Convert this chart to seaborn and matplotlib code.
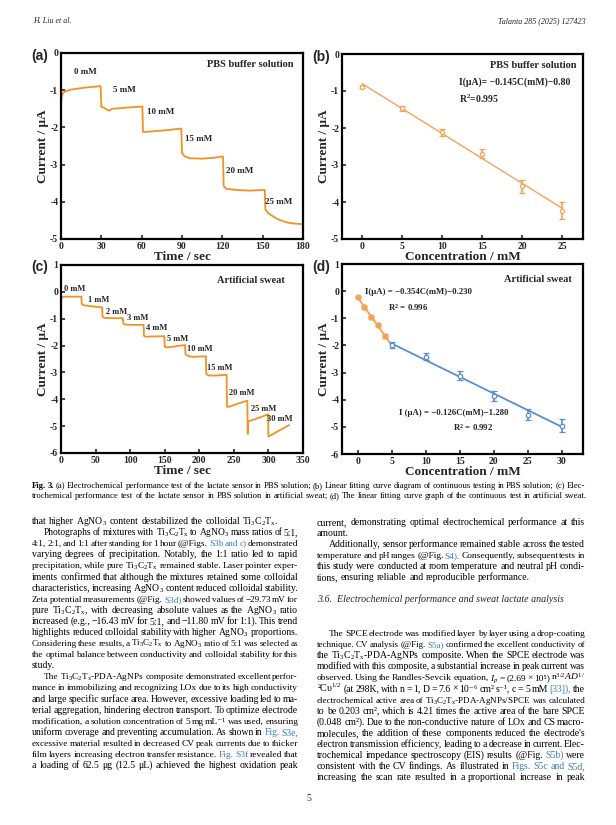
import matplotlib
matplotlib.use('Agg')
import matplotlib.pyplot as plt
import seaborn as sns

# ---- panel (a): i-t curve in PBS ----
a_time = [0, 0.5, 1, 2, 4, 8, 12, 18, 24, 29.5, 30, 32, 34, 36, 38, 45, 52, 60.5,
          61, 64, 70, 80, 89.5, 90, 92, 96, 105, 113, 120.5, 121, 123, 130, 140, 146,
          151.5, 152, 154, 158, 162, 166, 170, 175, 180]
a_curr = [-1.40, -1.20, -1.12, -1.06, -1.02, -0.98, -0.96, -0.93, -0.91, -0.89, -1.45,
          -1.47, -1.52, -1.55, -1.50, -1.48, -1.46, -1.44, -2.12, -2.12, -2.10, -2.07,
          -2.03, -2.68, -2.78, -2.83, -2.84, -2.82, -2.78, -3.58, -3.65, -3.68, -3.70,
          -3.69, -3.68, -4.20, -4.30, -4.40, -4.48, -4.53, -4.57, -4.59, -4.60]
a_labels = ['0 mM', '5 mM', '10 mM', '15 mM', '20 mM', '25 mM']
a_label_x = [18, 47, 74, 102, 133, 162]
a_label_y = [-0.50, -0.99, -1.59, -2.32, -3.17, -4.01]

# ---- panel (b): calibration in PBS ----
b_conc = [0, 5, 10, 15, 20, 25]
b_curr = [-0.88, -1.47, -2.12, -2.70, -3.58, -4.23]
b_err = [0.05, 0.07, 0.10, 0.12, 0.18, 0.22]
b_fit_x = [0, 25]
b_fit_y = [-0.80, -4.17]

# ---- panel (c): i-t curve in artificial sweat ----
c_time = [0, 2, 5, 29.5, 30, 33, 45, 59.5, 60, 63, 75, 89.5, 90, 93, 105, 119.5, 120,
          123, 135, 149.5, 150, 153, 165, 179.5, 180, 183, 190, 209.5, 210, 213, 220,
          239.5, 240, 243, 255, 269.5, 270, 270.5, 285, 299.5, 300, 315, 330]
c_curr = [-0.25, -0.20, -0.18, -0.18, -0.45, -0.50, -0.54, -0.58, -0.93, -0.97, -0.98,
          -0.98, -1.17, -1.22, -1.23, -1.23, -1.64, -1.67, -1.66, -1.65, -2.04, -2.07,
          -2.03, -1.98, -2.32, -2.38, -2.42, -2.40, -3.05, -3.11, -3.12, -3.09, -4.28,
          -4.28, -4.17, -4.05, -5.29, -4.83, -4.70, -4.56, -5.39, -5.17, -4.96]
c_labels = ['0 mM', '1 mM', '2 mM', '3 mM', '4 mM', '5 mM', '10 mM', '15 mM', '20 mM',
            '25 mM', '30 mM']
c_label_x = [20, 54, 81, 111, 139, 169, 201, 230, 262, 293, 317]
c_label_y = [0.09, -0.31, -0.74, -0.99, -1.33, -1.76, -2.11, -2.85, -3.78, -4.36, -4.75]

# ---- panel (d): calibration in artificial sweat ----
d_low_conc = [0, 1, 2, 3, 4]
d_low_curr = [-0.21, -0.60, -0.97, -1.23, -1.65]
d_low_err = [0.04, 0.05, 0.06, 0.07, 0.08]
d_low_fit_x = [0, 5]
d_low_fit_y = [-0.23, -2.00]
d_high_conc = [5, 10, 15, 20, 25, 30]
d_high_curr = [-1.99, -2.42, -3.12, -3.86, -4.55, -4.96]
d_high_err = [0.10, 0.13, 0.16, 0.18, 0.21, 0.24]
d_high_fit_x = [5, 30]
d_high_fit_y = [-1.93, -5.00]

W, H = 616, 825
ORANGE = '#F29224'
ORANGE_L = '#F5A257'
BLUE = '#5A8ED0'
LINK = '#3B7BBF'

sns.set_theme(style='ticks')
plt.rcParams['font.family'] = ['Liberation Serif', 'DejaVu Serif']
plt.rcParams['mathtext.fontset'] = 'custom'
plt.rcParams['mathtext.rm'] = 'Liberation Serif'
plt.rcParams['mathtext.it'] = 'Liberation Serif:italic'
plt.rcParams['mathtext.bf'] = 'Liberation Serif:bold'

fig = plt.figure(figsize=(W / 100, H / 100), dpi=100)
fig.patch.set_facecolor('white')


def px_axes(l, t, r, b):
    return fig.add_axes([l / W, 1 - b / H, (r - l) / W, (b - t) / H])


def style_axes(ax, xlabel, ylabel):
    for s in ax.spines.values():
        s.set_visible(True)
        s.set_linewidth(1.6)
        s.set_color('black')
    ax.tick_params(direction='in', length=3, width=1.2, labelsize=7, pad=2)
    for lab in ax.get_xticklabels() + ax.get_yticklabels():
        lab.set_fontweight('bold')
    ax.set_xlabel(xlabel, fontsize=9.5, fontweight='bold', labelpad=0)
    ax.set_ylabel(ylabel, fontsize=9.5, fontweight='bold', labelpad=1)
    ax.set_facecolor('white')
    ax.grid(False)


# (a)
ax = px_axes(61, 53, 303, 239)
sns.lineplot(x=a_time, y=a_curr, ax=ax, color=ORANGE, lw=1.3, sort=False, estimator=None)
ax.set_xlim(0, 180)
ax.set_ylim(-5, 0)
ax.set_xticks(range(0, 181, 30))
ax.set_yticks([0, -1, -2, -3, -4, -5])
ax.set_yticklabels(['0', '-1', '-2', '-3', '-4', '-5'])
for lab, x, y in zip(a_labels, a_label_x, a_label_y):
    ax.text(x, y, lab, fontsize=6.5, fontweight='bold', ha='center', va='center')
ax.text(173, -0.31, 'PBS buffer solution', fontsize=7.5, fontweight='bold', ha='right', va='center')
style_axes(ax, 'Time / sec', 'Current / μA')

# (b)
ax = px_axes(342, 54, 583, 239)
sns.lineplot(x=b_fit_x, y=b_fit_y, ax=ax, color=ORANGE_L, lw=1.0)
ax.errorbar(b_conc, b_curr, yerr=b_err, fmt='o', ms=3, mfc='white', mec=ORANGE_L,
            ecolor=ORANGE_L, elinewidth=1.2, capsize=2.2, capthick=1.0, mew=0.9)
ax.set_xlim(-2.5, 27.6)
ax.set_ylim(-5, 0)
ax.set_xticks(b_conc)
ax.set_yticks([0, -1, -2, -3, -4, -5])
ax.set_yticklabels(['0', '-1', '-2', '-3', '-4', '-5'])
ax.text(26.8, -0.30, 'PBS buffer solution', fontsize=7.5, fontweight='bold', ha='right', va='center')
ax.text(12.1, -0.77, 'I(μA)= −0.145C(mM)−0.80', fontsize=7, fontweight='bold', ha='left', va='center')
ax.text(12.1, -1.20, r'R$^{\mathbf{2}}$=0.995', fontsize=7, fontweight='bold', ha='left', va='center')
style_axes(ax, 'Concentration / mM', 'Current / μA')

# (c)
ax = px_axes(61, 265, 303, 453)
sns.lineplot(x=c_time, y=c_curr, ax=ax, color=ORANGE, lw=1.3, sort=False, estimator=None)
ax.set_xlim(0, 350)
ax.set_ylim(-6, 1)
ax.set_xticks(range(0, 351, 50))
ax.set_yticks([1, 0, -1, -2, -3, -4, -5, -6])
ax.set_yticklabels(['1', '0', '-1', '-2', '-3', '-4', '-5', '-6'])
for lab, x, y in zip(c_labels, c_label_x, c_label_y):
    ax.text(x, y, lab, fontsize=6, fontweight='bold', ha='center', va='center')
ax.text(324, 0.43, 'Artificial sweat', fontsize=7.5, fontweight='bold', ha='right', va='center')
style_axes(ax, 'Time / sec', 'Current / μA')

# (d)
ax = px_axes(342, 264, 583, 454)
sns.lineplot(x=d_low_fit_x, y=d_low_fit_y, ax=ax, color=ORANGE_L, lw=1.3)
sns.lineplot(x=d_high_fit_x, y=d_high_fit_y, ax=ax, color=BLUE, lw=1.3)
ax.errorbar(d_low_conc, d_low_curr, yerr=d_low_err, fmt='o', ms=3.5, mfc=ORANGE_L, mec=ORANGE_L,
            ecolor=ORANGE_L, elinewidth=1.2, capsize=2.2, capthick=1.0)
ax.errorbar(d_high_conc, d_high_curr, yerr=d_high_err, fmt='o', ms=3.2, mfc='white', mec=BLUE,
            ecolor=BLUE, elinewidth=1.2, capsize=2.2, capthick=1.0, mew=0.9)
ax.set_xlim(-2.3, 33.1)
ax.set_ylim(-6, 1)
ax.set_xticks(range(0, 31, 5))
ax.set_yticks([1, 0, -1, -2, -3, -4, -5, -6])
ax.set_yticklabels(['1', '0', '-1', '-2', '-3', '-4', '-5', '-6'])
ax.text(31.4, 0.44, 'Artificial sweat', fontsize=7.5, fontweight='bold', ha='right', va='center')
ax.text(1.1, -0.02, 'I(μA) = −0.354C(mM)−0.230', fontsize=6.3, fontweight='bold', ha='left', va='center')
ax.text(4.4, -0.61, r'R$^{\mathbf{2}}$ = 0.996', fontsize=6.3, fontweight='bold', ha='left', va='center')
ax.text(6.1, -4.50, 'I (μA) = −0.126C(mM)−1.280', fontsize=6.3, fontweight='bold', ha='left', va='center')
ax.text(14.0, -5.03, r'R$^{\mathbf{2}}$ = 0.992', fontsize=6.3, fontweight='bold', ha='left', va='center')
style_axes(ax, 'Concentration / mM', 'Current / μA')

for lab, x, y in [('(a)', 31, 56), ('(b)', 312, 57), ('(c)', 31, 267), ('(d)', 312, 267)]:
    fig.text(x / W, 1 - y / H, lab, fontsize=10, fontweight='bold', family='Liberation Sans',
             ha='left', va='center')

# ---- page text ----
renderer = fig.canvas.get_renderer()


def put_line(x0, yb, width, text, size, justify=True, style='normal', indent=0):
    # one justified line, word by word; '@' marks a link word, '#' a bold word
    tokens = text.split(' ')
    arts = []
    for tok in tokens:
        col, wt = 'black', 'normal'
        if tok.startswith('@'):
            tok, col = tok[1:], LINK
        if tok.startswith('#'):
            tok, wt = tok[1:], 'bold'
        arts.append(fig.text(0, 1 - yb / H, tok, fontsize=size, color=col, style=style,
                             fontweight=wt, ha='left', va='baseline'))
    avail = width - indent
    widths = [a.get_window_extent(renderer).width for a in arts]
    min_gap = size * 0.14 * 100 / 72
    need = sum(widths) + min_gap * (len(arts) - 1)
    if justify and need > avail:
        new = size * avail / need
        for a in arts:
            a.set_fontsize(new)
        widths = [a.get_window_extent(renderer).width for a in arts]
    if justify and len(arts) > 1:
        gap = (avail - sum(widths)) / (len(arts) - 1)
    else:
        gap = size * 0.25 * 100 / 72
    x = x0 + indent
    for a, w in zip(arts, widths):
        a.set_x(x / W)
        x += w + gap


TI = r'Ti$_3$C$_2$T$_\mathrm{x}$'
AG = r'AgNO$_3$'

left_col = [
    ('that higher ' + AG + ' content destabilized the colloidal ' + TI + '.', False, 0),
    ('Photographs of mixtures with ' + TI + ' to ' + AG + ' mass ratios of 5:1,', True, 12),
    ('4:1, 2:1, and 1:1 after standing for 1 hour (@Figs. @S3b @and @c) demonstrated', True, 0),
    ('varying degrees of precipitation. Notably, the 1:1 ratio led to rapid', True, 0),
    ('precipitation, while pure ' + TI + ' remained stable. Laser pointer exper-', True, 0),
    ('iments confirmed that although the mixtures retained some colloidal', True, 0),
    ('characteristics, increasing ' + AG + ' content reduced colloidal stability.', True, 0),
    ('Zeta potential measurements (@Fig. @S3d) showed values of −29.73 mV for', True, 0),
    ('pure ' + TI + ', with decreasing absolute values as the ' + AG + ' ratio', True, 0),
    ('increased (e.g., −16.43 mV for 5:1, and −11.80 mV for 1:1). This trend', True, 0),
    ('highlights reduced colloidal stability with higher ' + AG + ' proportions.', True, 0),
    ('Considering these results, a ' + TI + ' to ' + AG + ' ratio of 5:1 was selected as', True, 0),
    ('the optimal balance between conductivity and colloidal stability for this', True, 0),
    ('study.', False, 0),
    ('The ' + TI + '-PDA-AgNPs composite demonstrated excellent perfor-', True, 12),
    ('mance in immobilizing and recognizing LOx due to its high conductivity', True, 0),
    ('and large specific surface area. However, excessive loading led to ma-', True, 0),
    ('terial aggregation, hindering electron transport. To optimize electrode', True, 0),
    ('modification, a solution concentration of 5 mg mL⁻¹ was used, ensuring', True, 0),
    ('uniform coverage and preventing accumulation. As shown in @Fig. @S3e,', True, 0),
    ('excessive material resulted in decreased CV peak currents due to thicker', True, 0),
    ('film layers increasing electron transfer resistance. @Fig. @S3f revealed that', True, 0),
    ('a loading of 62.5 μg (12.5 μL) achieved the highest oxidation peak', True, 0),
]

right_col = [
    ('current, demonstrating optimal electrochemical performance at this', True, 0),
    ('amount.', False, 0),
    ('Additionally, sensor performance remained stable across the tested', True, 12),
    ('temperature and pH ranges (@Fig. @S4). Consequently, subsequent tests in', True, 0),
    ('this study were conducted at room temperature and neutral pH condi-', True, 0),
    ('tions, ensuring reliable and reproducible performance.', False, 0),
    None, None,
    None, None,
    ('The SPCE electrode was modified layer by layer using a drop-coating', True, 12),
    ('technique. CV analysis (@Fig. @S5a) confirmed the excellent conductivity of', True, 0),
    ('the ' + TI + '-PDA-AgNPs composite. When the SPCE electrode was', True, 0),
    ('modified with this composite, a substantial increase in peak current was', True, 0),
    (r'observed. Using the Randles-Sevcik equation, $I_p$ = (2.69 × 10⁵) n$^{3/2}$$AD^{1/}$', True, 0),
    (r'²Cυ$^{1/2}$ (at 298K, with n = 1, D = 7.6 × 10⁻⁶ cm² s⁻¹, c = 5 mM @[33]), the', True, 0),
    ('electrochemical active area of ' + TI + '-PDA-AgNPs/SPCE was calculated', True, 0),
    ('to be 0.203 cm², which is 4.21 times the active area of the bare SPCE', True, 0),
    ('(0.048 cm²). Due to the non-conductive nature of LOx and CS macro-', True, 0),
    ("molecules, the addition of these components reduced the electrode's", True, 0),
    ('electron transmission efficiency, leading to a decrease in current. Elec-', True, 0),
    ('trochemical impedance spectroscopy (EIS) results (@Fig. @S5b) were', True, 0),
    ('consistent with the CV findings. As illustrated in @Figs. @S5c @and @S5d,', True, 0),
    ('increasing the scan rate resulted in a proportional increase in peak', True, 0),
]

LS = 11.1
BODY = 7.0
for i, item in enumerate(left_col):
    if item is None:
        continue
    txt, just, ind = item
    put_line(32, 524 + i * LS, 266, txt, BODY, justify=just, indent=ind)
for i, item in enumerate(right_col):
    if item is None:
        continue
    txt, just, ind = item
    put_line(317, 525 + i * LS, 268, txt, BODY, justify=just, indent=ind)

fig.text(317 / W, 1 - 602 / H, '3.6.  Electrochemical performance and sweat lactate analysis',
         fontsize=7.2, style='italic', ha='left', va='baseline')

cap1 = ('#Fig. #3. (a) Electrochemical performance test of the lactate sensor in PBS solution; (b) '
        'Linear fitting curve diagram of continuous testing in PBS solution; (c) Elec-')
cap2 = ('trochemical performance test of the lactate sensor in PBS solution in artificial sweat; '
        '(d) The linear fitting curve graph of the continuous test in artificial sweat.')
put_line(32, 488, 553, cap1, 6.2, justify=True)
put_line(32, 498, 553, cap2, 6.2, justify=False)

fig.text(33 / W, 1 - 23 / H, 'H. Liu et al.', fontsize=5.8, style='italic', ha='left', va='baseline')
fig.text(585 / W, 1 - 23 / H, 'Talanta 285 (2025) 127423', fontsize=5.8, style='italic',
         ha='right', va='baseline')
fig.text(309 / W, 1 - 801 / H, '5', fontsize=7, ha='center', va='baseline')

fig.savefig('out.png', dpi=100, facecolor='white')
